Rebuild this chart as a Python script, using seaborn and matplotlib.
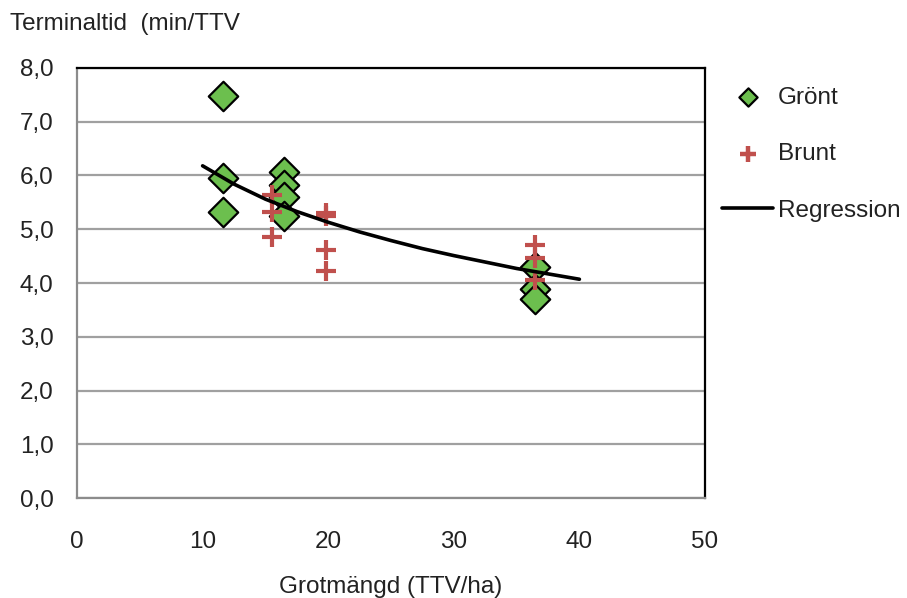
import numpy as np
import pandas as pd
import matplotlib
matplotlib.use("Agg")
import matplotlib.pyplot as plt
from matplotlib.ticker import FuncFormatter, MultipleLocator
import seaborn as sns

# data
gront_x = [11.6, 11.6, 11.6, 16.5, 16.5, 16.5, 16.5, 36.5, 36.5, 36.5]
gront_y = [7.48, 5.95, 5.32, 6.07, 5.82, 5.60, 5.25, 4.29, 3.88, 3.70]

brunt_x = [15.5, 15.5, 15.5, 19.8, 19.8, 19.8, 19.8, 36.5, 36.5, 36.5]
brunt_y = [5.64, 5.32, 4.86, 5.30, 5.24, 4.61, 4.22, 4.71, 4.47, 4.06]

reg_x = [10, 12.5, 15, 17.5, 20, 22.5, 25, 27.5, 30, 32.5, 35, 37.5, 40]
reg_y = [6.18, 5.84, 5.56, 5.33, 5.13, 4.95, 4.79, 4.64, 4.51, 4.39, 4.27, 4.17, 4.07]

GREEN = '#6CBF4E'
RED = '#C0504D'
FS = 17.5

sns.set_style('white')
plt.rcParams['font.family'] = ['Liberation Sans', 'DejaVu Sans']

fig = plt.figure(figsize=(9.07, 5.98), dpi=100)
ax = fig.add_axes([0.0849, 0.1672, 0.6924, 0.7191])

df_g = pd.DataFrame({'x': gront_x, 'y': gront_y})
df_b = pd.DataFrame({'x': brunt_x, 'y': brunt_y})
df_r = pd.DataFrame({'x': reg_x, 'y': reg_y})

sns.scatterplot(data=df_g, x='x', y='y', marker='D', s=225, color=GREEN,
                edgecolor='black', linewidth=1.6, ax=ax, zorder=3, label='Grönt')
sns.scatterplot(data=df_b, x='x', y='y', marker='+', s=200, color=RED,
                linewidth=3, ax=ax, zorder=4, label='Brunt')
sns.lineplot(data=df_r, x='x', y='y', color='black', linewidth=2.6, ax=ax,
             zorder=5, label='Regression')

ax.set_xlim(0, 50)
ax.set_ylim(0, 8)
ax.xaxis.set_major_locator(MultipleLocator(10))
ax.yaxis.set_major_locator(MultipleLocator(1))
ax.yaxis.set_major_formatter(FuncFormatter(lambda v, p: f"{v:.1f}".replace('.', ',')))
ax.tick_params(axis='both', length=0, labelsize=FS, colors='#222222')
ax.tick_params(axis='x', pad=24)
ax.tick_params(axis='y', pad=17)

ax.grid(axis='y', color='#A0A0A0', linewidth=1.6)
ax.grid(axis='x', visible=False)
ax.set_axisbelow(True)

for side in ['left', 'bottom']:
    ax.spines[side].set_color('#8C8C8C')
    ax.spines[side].set_linewidth(1.6)
for side in ['top', 'right']:
    ax.spines[side].set_color('black')
    ax.spines[side].set_linewidth(1.6)

ax.set_xlabel('Grotmängd (TTV/ha)', fontsize=FS, color='#222222', labelpad=16)
ax.set_ylabel('')
fig.text(0.011, 0.96, 'Terminaltid  (min/TTV', fontsize=FS, color='#222222',
         va='center', ha='left')

handles, labels = ax.get_legend_handles_labels()
leg = ax.legend(handles, labels, loc='upper left', bbox_to_anchor=(1.012, 0.979),
                frameon=False, fontsize=FS, labelspacing=1.42, handlelength=2.1,
                handletextpad=0.2, markerscale=0.62, borderaxespad=0)
leg.legend_handles[1].set_sizes([120])
leg.legend_handles[1].set_linewidths([3.2])
for t in leg.get_texts():
    t.set_color('#222222')

plt.savefig('out.png', dpi=100)
